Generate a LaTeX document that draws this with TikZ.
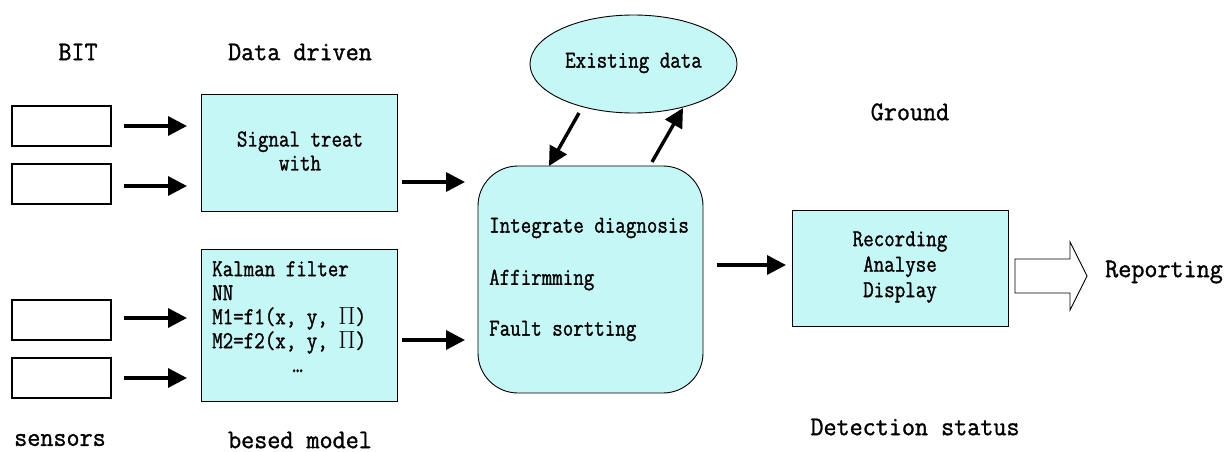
\documentclass[tikz,border=0pt]{standalone}
\usepackage{fontspec}
\setmainfont{Latin Modern Mono}
\newfontfamily\headfont{Latin Modern Mono}[FakeStretch=0.94,FakeBold=1.2]
\newfontfamily\innerfont{Latin Modern Mono}[FakeStretch=0.84,FakeBold=1.2]
\usetikzlibrary{arrows.meta,shapes.geometric}
\definecolor{boxfill}{HTML}{C6F7F7}
\tikzset{
  px/.style={x=1pt,y=-1pt},
  smallbox/.style={draw,line width=1.2pt,minimum width=99pt,minimum height=40pt,inner sep=0pt},
  cyanbox/.style={draw,line width=0.9pt,fill=boxfill,inner sep=0pt},
  bigtxt/.style={font=\headfont\fontsize{27}{30}\selectfont,inner sep=0pt},
  intxt/.style={font=\innerfont\fontsize{24.3}{24}\selectfont,inner sep=0pt},
  flow/.style={line width=3.4pt,-{Triangle[length=19pt,width=19pt]}},
}
\begin{document}
\begin{tikzpicture}[px]
\useasboundingbox (0,0) rectangle (1228,452);
% headings
\node[bigtxt] (bit) at (78,52) {BIT};
\node[bigtxt] (dd) at (300,52) {Data driven};
\node[bigtxt] (sens) at (60,440) {sensors};
\node[bigtxt] (bm) at (300,440) {besed model};
\node[bigtxt] (gr) at (910,112) {Ground};
\node[bigtxt] (det) at (915,427) {Detection status};
% small input boxes
\node[smallbox] (s1) at (61.5,126) {};
\node[smallbox] (s2) at (61.5,184) {};
\node[smallbox] (s3) at (61.5,320) {};
\node[smallbox] (s4) at (61.5,378) {};
% process boxes
\node[cyanbox,minimum width=196pt,minimum height=117pt] (sig) at (299,152.5) {};
\node[intxt,align=center] (sigt) at (300,151) {Signal treat\\with};
\node[cyanbox,minimum width=196pt,minimum height=152pt] (mod) at (299,325) {};
\node[intxt,align=left,anchor=north west,font=\innerfont\fontsize{24.3}{24}\selectfont] (modt) at (212,261) {Kalman filter\\NN\\M1=f1(x, y, $\Pi$)\\M2=f2(x, y, $\Pi$)\\\hspace*{3.3em}\dots};
% integrate box
\node[cyanbox,rounded corners=40pt,minimum width=225pt,minimum height=227pt] (int) at (590.5,279.5) {};
\node[intxt,anchor=west] (i1) at (489,228) {Integrate diagnosis};
\node[intxt,anchor=west] (i2) at (489,280) {Affirmming};
\node[intxt,anchor=west] (i3) at (489,331) {Fault sortting};
% ellipse
\node[cyanbox,ellipse,minimum width=207pt,minimum height=98pt] (ex) at (633.5,64) {};
\node[intxt] (ext) at (633.5,63) {Existing data};
% recording box
\node[cyanbox,minimum width=216pt,minimum height=116pt] (rec) at (900,268) {};
\node[intxt,align=center,font=\innerfont\fontsize{24.3}{25.5}\selectfont] (rect) at (900,267) {Recording\\Analyse\\Display};
% reporting
\node[bigtxt,anchor=west] (rep) at (1105,272) {Reporting};
% arrow helpers
\coordinate (a1s) at (124,126); \coordinate (a1e) at (187,126);
\coordinate (a2s) at (124,186); \coordinate (a2e) at (187,186);
\coordinate (a3s) at (124,318); \coordinate (a3e) at (187,318);
\coordinate (a4s) at (124,378); \coordinate (a4e) at (187,378);
\coordinate (b1s) at (402,182); \coordinate (b1e) at (465,182);
\coordinate (b2s) at (402,340); \coordinate (b2e) at (465,340);
\coordinate (cs) at (717,265); \coordinate (ce) at (786,265);
\coordinate (d1s) at (579,113); \coordinate (d1e) at (549,166);
\coordinate (d2s) at (652,162); \coordinate (d2e) at (683,108);
\draw[flow] (a1s) -- (a1e);
\draw[flow] (a2s) -- (a2e);
\draw[flow] (a3s) -- (a3e);
\draw[flow] (a4s) -- (a4e);
\draw[flow] (b1s) -- (b1e);
\draw[flow] (b2s) -- (b2e);
\draw[flow] (cs) -- (ce);
\draw[flow] (d1s) -- (d1e);
\draw[flow] (d2s) -- (d2e);
% block arrow
\draw[line width=0.9pt,fill=white] (1015,259) -- (1070,259) -- (1070,242) -- (1087,276) -- (1070,310) -- (1070,293) -- (1015,293) -- cycle;
\end{tikzpicture}
\end{document}
